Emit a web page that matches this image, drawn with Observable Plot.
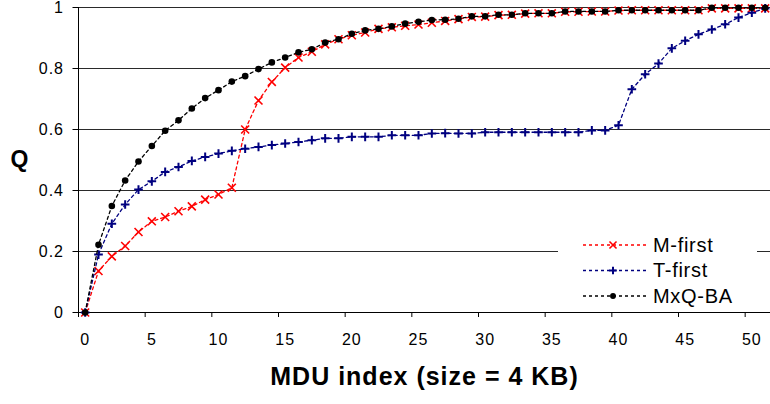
<!DOCTYPE html>
<html>
<head>
<meta charset="utf-8">
<script src="https://cdn.jsdelivr.net/npm/d3@7"></script>
<script src="https://cdn.jsdelivr.net/npm/@observablehq/plot@0.6"></script>
<style>
  html, body { margin: 0; padding: 0; background: #fff; }
  #chart { position: relative; width: 770px; height: 404px; font-family: "Liberation Sans", Arial, sans-serif; }
  #legend { position: absolute; left: 558px; top: 231px; width: 199px; height: 79px; background: #fff; }
</style>
</head>
<body>
<div id="chart"><div id="legend"></div></div>
<script>
// MDU index (categories along the x axis)
const mduIndex = [0, 1, 2, 3, 4, 5, 6, 7, 8, 9, 10, 11, 12, 13, 14, 15, 16, 17, 18, 19, 20,
  21, 22, 23, 24, 25, 26, 27, 28, 29, 30, 31, 32, 33, 34, 35, 36, 37, 38, 39, 40,
  41, 42, 43, 44, 45, 46, 47, 48, 49, 50, 51];

// Q per scheduling scheme
const mFirst = [0, 0.136, 0.184, 0.218, 0.264, 0.299, 0.313, 0.332, 0.348, 0.370, 0.387, 0.409, 0.600, 0.695,
  0.756, 0.803, 0.836, 0.855, 0.879, 0.896, 0.909, 0.918, 0.930, 0.935, 0.940, 0.944, 0.950, 0.956,
  0.962, 0.969, 0.970, 0.975, 0.976, 0.980, 0.981, 0.981, 0.986, 0.986, 0.987, 0.987, 0.990, 0.991,
  0.991, 0.991, 0.991, 0.991, 0.991, 0.997, 0.997, 0.997, 0.997, 0.997];
const tFirst = [0, 0.190, 0.291, 0.354, 0.403, 0.430, 0.461, 0.477, 0.497, 0.510, 0.521, 0.530, 0.537, 0.543,
  0.549, 0.554, 0.559, 0.565, 0.571, 0.571, 0.576, 0.576, 0.576, 0.581, 0.581, 0.581, 0.587, 0.588,
  0.587, 0.587, 0.591, 0.591, 0.591, 0.591, 0.591, 0.591, 0.591, 0.591, 0.597, 0.597,
  0.614, 0.732, 0.781, 0.816, 0.866, 0.891, 0.912, 0.928, 0.945, 0.967, 0.983, 0.997];
const mxqBA = [0, 0.222, 0.349, 0.433, 0.495, 0.546, 0.596, 0.630, 0.669, 0.703, 0.729, 0.757, 0.775, 0.798,
  0.820, 0.836, 0.853, 0.863, 0.885, 0.896, 0.914, 0.925, 0.930, 0.938, 0.947, 0.953, 0.959, 0.960,
  0.963, 0.971, 0.971, 0.976, 0.976, 0.981, 0.981, 0.981, 0.987, 0.987, 0.987, 0.987, 0.991, 0.991,
  0.991, 0.991, 0.991, 0.991, 0.991, 0.999, 0.999, 0.999, 0.999, 0.999];

// Axis ticks and labels
const xTicks = [0, 5, 10, 15, 20, 25, 30, 35, 40, 45, 50];
const yTicks = [0, 0.2, 0.4, 0.6, 0.8, 1];
const seriesNames = ["M-first", "T-first", "MxQ-BA"];
const xTitle = "MDU index (size = 4 KB)";
const yTitle = "Q";

// Series styling: colour and marker
const styles = {
  "M-first": {color: "#ff0000", symbol: "times", r: 3.7, sw: 1.6, fill: "none"},
  "T-first": {color: "#000080", symbol: "plus", r: 2.9, sw: 2, fill: "none"},
  "MxQ-BA": {color: "#000000", symbol: "circle", r: 3.3, sw: 0, fill: "#000000"}
};

const valuesBySeries = {"M-first": mFirst, "T-first": tFirst, "MxQ-BA": mxqBA};
const table = seriesNames.map(name =>
  mduIndex.map((idx, i) => ({series: name, idx, q: valuesBySeries[name][i]})));

// Category boundaries where the x tick marks sit
const xTickMarks = xTicks.map(v => v - 0.5);

const seriesMarks = table.flatMap(rows => {
  const s = styles[rows[0].series];
  return [
    Plot.line(rows, {x: "idx", y: "q", stroke: s.color, strokeWidth: 1.3, strokeDasharray: "3,3"}),
    s.symbol === "circle"
      ? Plot.dot(rows, {x: "idx", y: "q", r: s.r, fill: s.fill, stroke: null})
      : Plot.dot(rows, {x: "idx", y: "q", r: s.r, symbol: s.symbol, stroke: s.color, strokeWidth: s.sw, fill: "none"})
  ];
});

const chart = Plot.plot({
  width: 770,
  height: 404,
  marginLeft: 78,
  marginRight: 0,
  marginTop: 7,
  marginBottom: 92,
  style: {fontFamily: "'Liberation Sans', Arial, sans-serif", letterSpacing: "1px", color: "#000", background: "#fff"},
  x: {domain: [-0.5, 51.4]},
  y: {domain: [0, 1]},
  marks: [
    Plot.ruleY(yTicks.filter(v => v > 0), {stroke: "#2a2a2a", strokeWidth: 1}),
    Plot.ruleY([0], {stroke: "#000", strokeWidth: 1}),
    Plot.ruleX([-0.5], {stroke: "#000", strokeWidth: 1}),
    Plot.axisY({ticks: yTicks, tickSize: 5.5, tickPadding: 9, tickFormat: d => String(d), fontSize: 16, label: null, stroke: "#000"}),
    Plot.axisX({ticks: xTickMarks, tickSize: 5, tickFormat: () => "", label: null, stroke: "#000"}),
    Plot.axisX({ticks: xTicks, tickSize: 0, tickPadding: 21, fontSize: 16, label: null}),
    ...seriesMarks,
    Plot.text([yTitle], {frameAnchor: "left", dx: -58.5, text: d => d, textAnchor: "middle", lineAnchor: "middle", fontSize: 23, fontWeight: "bold"}),
    Plot.text([xTitle], {frameAnchor: "bottom", dy: 72, text: d => d, textAnchor: "middle", lineAnchor: "bottom", fontSize: 25, fontWeight: "bold"})
  ]
});

const container = document.getElementById("chart");
container.insertBefore(chart, container.firstChild);

// Legend box drawn over the lower right of the plot area
const legendSvg = d3.select("#legend").append("svg")
  .attr("width", 199).attr("height", 79)
  .style("font-family", "'Liberation Sans', Arial, sans-serif");
const symbolTypes = {times: d3.symbolTimes, plus: d3.symbolPlus, circle: d3.symbolCircle};
seriesNames.forEach((name, i) => {
  const s = styles[name];
  const cy = 14 + i * 25.5;
  const g = legendSvg.append("g");
  g.append("line").attr("x1", 25).attr("x2", 89).attr("y1", cy).attr("y2", cy)
    .attr("stroke", s.color).attr("stroke-width", 1.3).attr("stroke-dasharray", "3,3");
  g.append("path")
    .attr("transform", `translate(55,${cy})`)
    .attr("d", d3.symbol(symbolTypes[s.symbol], Math.PI * s.r * s.r * 0.8)())
    .attr("fill", s.fill)
    .attr("stroke", s.sw ? s.color : "none")
    .attr("stroke-width", s.sw);
  g.append("text").attr("x", 95).attr("y", cy + 6.5)
    .attr("font-size", 20).attr("letter-spacing", "0.7px").attr("fill", "#000")
    .text(name);
});
</script>
</body>
</html>
